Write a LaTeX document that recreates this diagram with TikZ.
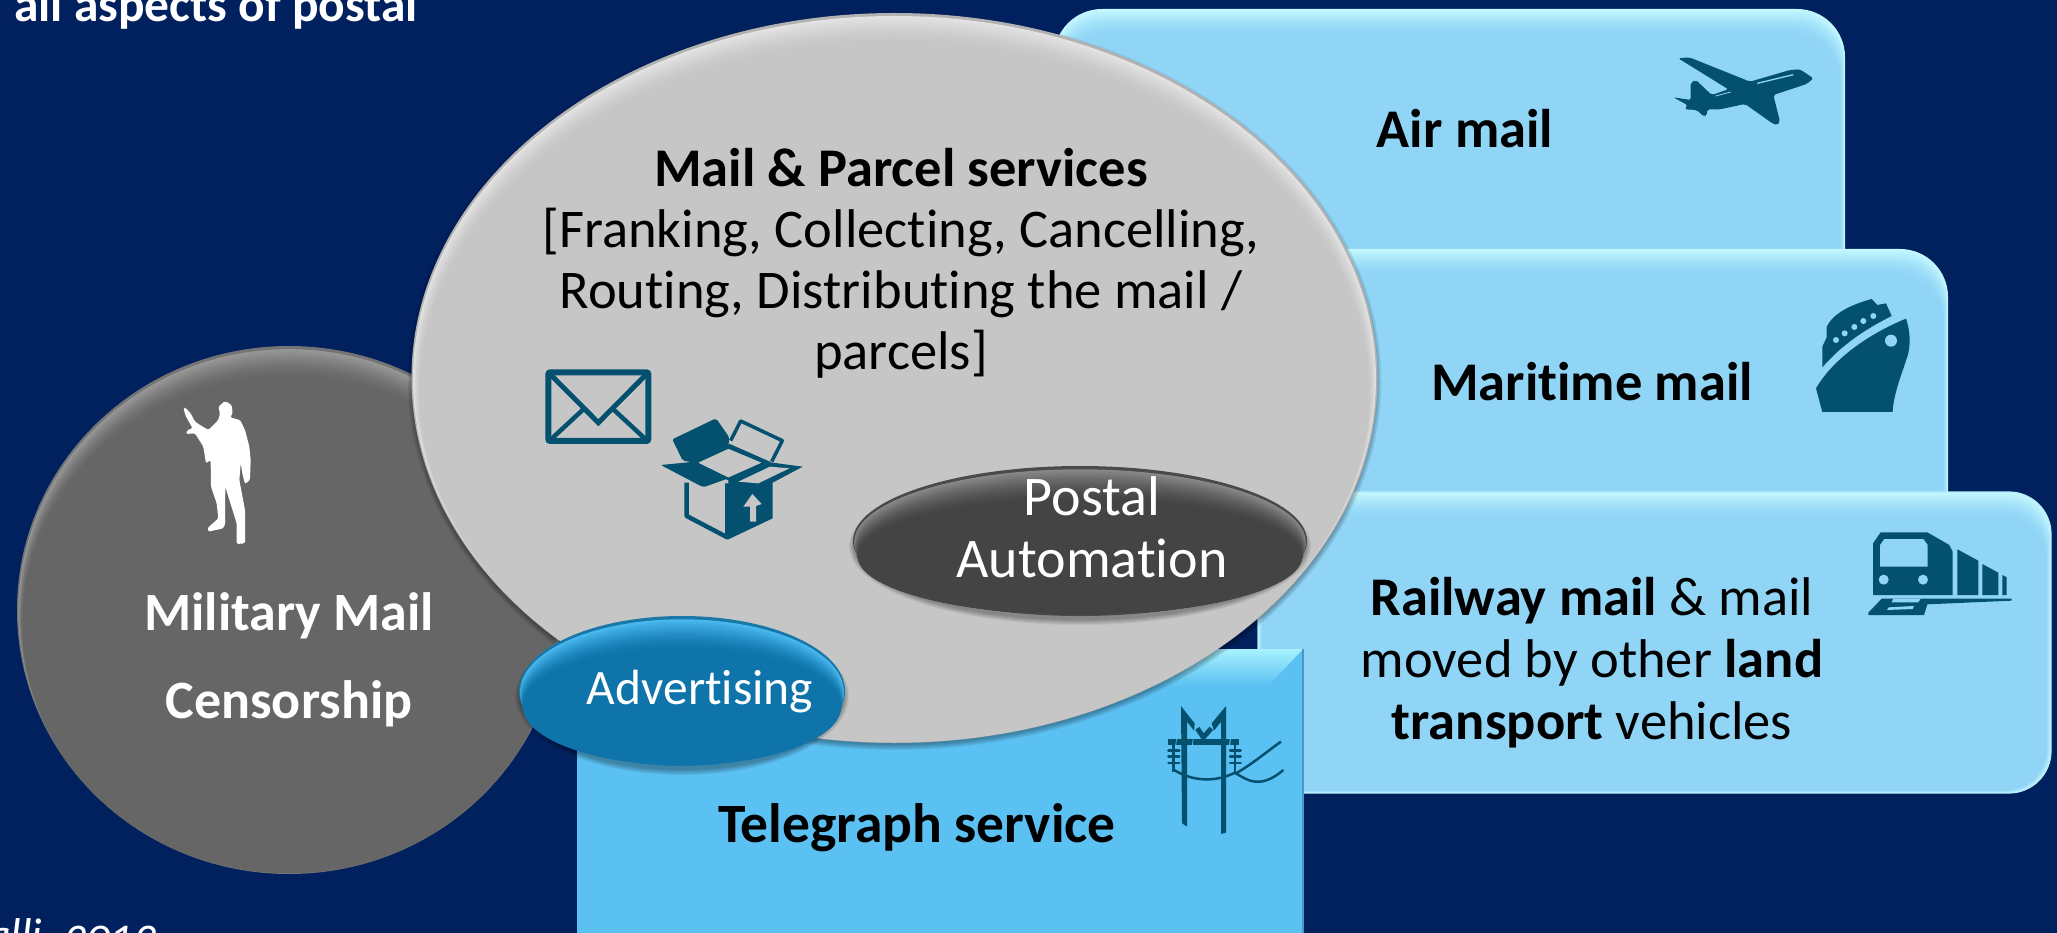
\documentclass[tikz,border=0pt]{standalone}
\usepackage{fontspec}
\setmainfont{Carlito}[Ligatures=NoCommon]
\definecolor{navybg}{HTML}{00205E}
\definecolor{skybase}{HTML}{90D5F6}
\definecolor{skytop}{HTML}{C4F8FF}
\definecolor{telbase}{HTML}{5BC0F2}
\definecolor{teltop}{HTML}{A8F2FF}
\definecolor{iconblue}{HTML}{04516F}
\definecolor{ellgray}{HTML}{C6C6C6}
\definecolor{ellrim}{HTML}{B2B2B2}
\definecolor{elltop}{HTML}{E6E6E6}
\definecolor{circrim}{HTML}{747474}
\definecolor{circtop}{HTML}{9C9C9C}
\definecolor{circbase}{HTML}{666666}
\definecolor{autorim}{HTML}{4A4A4A}
\definecolor{autotop}{HTML}{8E8E8E}
\definecolor{autobase}{HTML}{444444}
\definecolor{advrim}{HTML}{1A78A8}
\definecolor{advtop}{HTML}{4FC0F7}
\definecolor{advbase}{HTML}{0E74AA}
\newcommand{\bevelrect}[7]{% x0 y0 x1 y1 radius edge base
  \foreach \i in {0,...,15}{
    \pgfmathsetmacro{\pc}{100*(1-\i/15)^1.5}
    \colorlet{mixc}{#6!\pc!#7}
    \fill[mixc,rounded corners=#5pt]
      ({#1+0.35*\i},{#2+1.7*\i}) rectangle ({#3-0.35*\i},{#4-0.2*\i});
  }
}
\newcommand{\bevelell}[9]{% cx cy rx ry rim top base dy dx
  \fill[#5] (#1,#2) ellipse [x radius=#3,y radius=#4];
  \foreach \i in {1,...,14}{
    \pgfmathsetmacro{\pc}{100*(1-\i/14)^1.5}
    \colorlet{mixc}{#6!\pc!#7}
    \fill[mixc] (#1,{#2+#8*\i/28}) ellipse [x radius={#3-1-#9*\i/14},y radius={#4-1-#8*\i/28}];
  }
}
\newcommand{\softshadow}[5]{% cx cy rx ry offset
  \foreach \i in {0,...,5}{
    \fill[black,opacity=0.06] (#1,{#2+#5}) ellipse [x radius={#3+4-\i},y radius={#4+4-\i}];
  }
}
\tikzset{
  lab/.style={inner sep=0pt,align=center,text=black},
  labw/.style={inner sep=0pt,align=center,text=white},
  icon/.style={fill=iconblue,draw=none},
}
\begin{document}
\begin{tikzpicture}[x=1pt,y=-1pt]
\useasboundingbox (0,0) rectangle (2057,933);
\clip (0,0) rectangle (2057,933);
\fill[navybg] (0,0) rectangle (2057,933);

% blue stacked boxes
\bevelrect{1054}{9}{1845}{400}{48}{skytop}{skybase}
\bevelrect{1290}{249}{1948}{640}{48}{skytop}{skybase}
\bevelrect{1258}{492}{2051}{793}{42}{skytop}{skybase}
\draw[skytop!70!skybase,line width=1.2pt,rounded corners=42pt] (1258,492) rectangle (2051,793);

% telegraph box
\fill[telbase] (577,649) rectangle (1303,960);
\shade[top color=teltop,bottom color=telbase] (577,649) -- (1303,649) -- (1268,686) -- (577,686) -- cycle;
\draw[telbase!80!black,line width=1.5pt] (1303,649) -- (1303,933);

% dark circle
\bevelell{289}{610}{272}{264}{circrim}{circtop}{circbase}{30}{5}

% big ellipse
\softshadow{894.5}{378}{483}{365}{3}
\bevelell{894.5}{378}{483}{365}{ellrim}{elltop}{ellgray}{28}{8}

% small ellipses
\softshadow{1080}{541}{227}{75}{5}
\bevelell{1080}{541}{227}{75}{autorim}{autotop}{autobase}{32}{4}
\softshadow{682}{691}{163}{75}{5}
\bevelell{682}{691}{163}{75}{advrim}{advtop}{advbase}{32}{3}

% texts
\node[lab,font=\fontsize{54.5}{60}\selectfont\bfseries] (air) at (1465,129) {Air mail};
\node[lab,font=\fontsize{54.5}{60}\selectfont\bfseries] (maritime) at (1592,382) {Maritime mail};
\node[lab,font=\fontsize{54.5}{62}\selectfont] (rail) at (1592,663) {\textbf{Railway mail} \& mail\\ moved by other \textbf{land}\\ \textbf{transport} vehicles};
\node[lab,font=\fontsize{55.5}{60}\selectfont\bfseries] (tel) at (917,828) {Telegraph service};
\node[lab,font=\fontsize{54.5}{61}\selectfont] (mail) at (901,263) {\textbf{Mail \& Parcel services}\\ {[}Franking, Collecting, Cancelling,\\ Routing, Distributing the mail /\\ parcels{]}};
\node[labw,font=\fontsize{56}{62}\selectfont] (auto) at (1092,527) {Postal\\ Automation};
\node[labw,font=\fontsize{49.5}{54}\selectfont] (adv) at (700,692) {Advertising};
\node[labw,font=\fontsize{54}{88}\selectfont\bfseries] (mil) at (289,660) {Military Mail\\ Censorship};
\node[labw,anchor=base west,font=\fontsize{49.5}{54}\selectfont\bfseries] (top) at (14,22) {all aspects of postal};
\node[labw,anchor=base west,font=\fontsize{46}{50}\selectfont\itshape] (cite) at (-13,950) {\addfontfeatures{Numbers=OldStyle}alli, 2013};

% airplane
\begin{scope}[shift={(1600,20)},scale=1/3]
\fill[icon,rounded corners=2pt] (235,115) -- (268,112) -- (450,185) -- (570,150) -- (600,148) -- (640,175) -- (620,192) -- (520,225) -- (540,305) -- (533,315) -- (520,312) -- (435,252) -- (360,268) -- (322,268) -- (320,287) -- (312,290) -- (290,270) -- (255,268) -- (262,255) -- (220,232) -- (272,240) -- (272,188) -- (288,180) -- (335,225) -- (385,208) -- cycle;
\draw[skybase,line width=1.3pt] (472,190) -- (580,164);
\draw[skybase,line width=0.8pt] (347,228) -- (392,216);
\end{scope}

% ship
\begin{scope}[shift={(1800,280)},scale=1/3]
\fill[icon] (67,262) -- (67,200) -- (80,172) -- (80,140) .. controls (100,100) and (150,75) .. (215,57) -- (232,75) -- (258,70) -- (275,108) .. controls (190,150) and (120,200) .. (67,262) -- cycle;
\foreach \cx/\cy in {108/180,134/160,163/141,190/123,220/108}{
  \fill[skybase] (\cx,\cy) circle[radius=9];
}
\fill[icon] (318,116) .. controls (210,160) and (100,235) .. (48,325) -- (67,396) -- (278,396) .. controls (280,340) and (310,270) .. (325,220) .. controls (333,180) and (328,145) .. (318,116) -- cycle;
\fill[skybase] (273,182) circle[radius=18];
\end{scope}

% train
\begin{scope}[shift={(1750,500)},scale=1/3]
\fill[icon] (369,130) -- (392,97) -- (532,97) -- (598,135) -- (608,155) -- (608,285) -- (369,285) -- cycle;
\fill[skybase] (390,135) -- (403,117) -- (520,117) -- (533,135) -- (533,200) -- (390,200) -- cycle;
\fill[skybase] (401,239) circle[radius=15];
\fill[skybase] (519,239) circle[radius=15];
\fill[icon] (622,148) -- (685,182) -- (685,285) -- (622,285) -- cycle;
\fill[icon] (697,192) -- (745,218) -- (745,285) -- (697,285) -- cycle;
\fill[icon] (757,225) -- (770,232) -- (770,285) -- (757,285) -- cycle;
\fill[icon] (395,296) -- (785,296) -- (785,302) -- (532,313) -- (522,345) -- (355,345) -- (355,338) -- cycle;
\fill[skybase] (430,296) -- (512,296) -- (505,307) -- (425,307) -- cycle;
\fill[skybase] (416,322) -- (492,318) -- (488,327) -- (411,330) -- cycle;
\end{scope}

% telegraph pole
\begin{scope}[shift={(1120,680)},scale=1/3]
\fill[icon] (183,78) -- (224,130) -- (222,152) -- (201,125) -- (201,440) -- (186,430) -- cycle;
\fill[icon] (318,78) -- (318,458) -- (303,462) -- (303,125) -- (282,152) -- (275,130) -- cycle;
\draw[iconblue,line width=5pt] (232,145) -- (250,172) -- (274,145);
\fill[icon] (145,176) rectangle (357,194);
\foreach \xa/\xb in {169/171,219/221,330/333}{
  \fill[telbase] (\xa,174) -- (\xb,174) -- (\xb-3,196) -- (\xa-3,196) -- cycle;
}
\draw[iconblue,line width=2.5pt] (160,194) -- (160,275);
\draw[iconblue,line width=2.5pt] (345,194) -- (345,275);
\foreach \yy in {211,229,249}{
  \draw[iconblue,line width=2.4pt,line cap=round] (145,\yy) -- (178,\yy);
  \draw[iconblue,line width=2.4pt,line cap=round] (330,\yy) -- (362,\yy);
}
\draw[iconblue,line width=2.5pt] (160,268) .. controls (200,295) and (270,315) .. (345,278) .. controls (380,300) and (420,330) .. (490,270);
\draw[iconblue,line width=2.5pt] (345,282) .. controls (400,250) and (440,215) .. (483,185);
\end{scope}

% envelope and parcel
\begin{scope}[shift={(520,350)},scale=1/3]
\draw[iconblue,line width=6pt,rounded corners=2pt] (85,67) rectangle (385,273);
\draw[iconblue,line width=5pt] (90,72) -- (235,218) -- (380,72);
\draw[iconblue,line width=4.5pt] (95,266) -- (190,178);
\draw[iconblue,line width=4.5pt] (375,266) -- (280,178);
% parcel
\fill[icon,rounded corners=2pt] (457,268) -- (588,205) -- (628,262) -- (625,290) -- (525,338) -- (488,332) -- cycle;
\draw[iconblue,line width=3.5pt,line join=round] (632,272) -- (662,213) -- (787,272) -- (755,335);
\draw[iconblue,line width=3pt] (625,285) -- (750,340);
\fill[icon,rounded corners=2pt] (422,345) -- (525,335) -- (625,385) -- (550,412) -- cycle;
\draw[iconblue,line width=2.5pt] (525,338) -- (625,292) -- (735,338) -- (625,387) -- cycle;
\fill[icon] (625,385) -- (735,335) -- (848,350) -- (758,398) -- (758,505) -- (625,568) -- cycle;
\fill[ellgray] (655,395) -- (750,350) -- (808,355) -- (715,400) -- cycle;
\draw[iconblue,line width=4.5pt,line join=round] (500,398) -- (500,498) -- (622,562) -- (622,400);
\fill[ellgray] (697,432) -- (725,462) -- (708,468) -- (708,515) -- (690,515) -- (690,470) -- (670,470) -- cycle;
\end{scope}

% soldier
\begin{scope}[shift={(150,380)},scale=1/3]
\fill[white,rounded corners=1.5pt] (225,63) -- (245,75) -- (248,100) -- (240,112) -- (270,120) -- (285,150) -- (298,200) -- (302,240) -- (300,300) -- (285,312) -- (278,285) -- (272,250) -- (268,300) -- (285,390) -- (285,490) -- (260,492) -- (260,430) -- (235,350) -- (226,320) -- (225,400) -- (226,430) -- (220,445) -- (175,455) -- (172,445) -- (205,415) -- (200,370) -- (183,320) -- (182,240) -- (168,250) -- (160,200) -- (135,160) -- (108,162) -- (112,150) -- (128,145) -- (108,110) -- (100,85) -- (105,82) -- (122,100) -- (135,125) -- (150,135) -- (175,150) -- (205,120) -- (210,100) -- (205,80) -- cycle;
\end{scope}
\end{tikzpicture}
\end{document}
